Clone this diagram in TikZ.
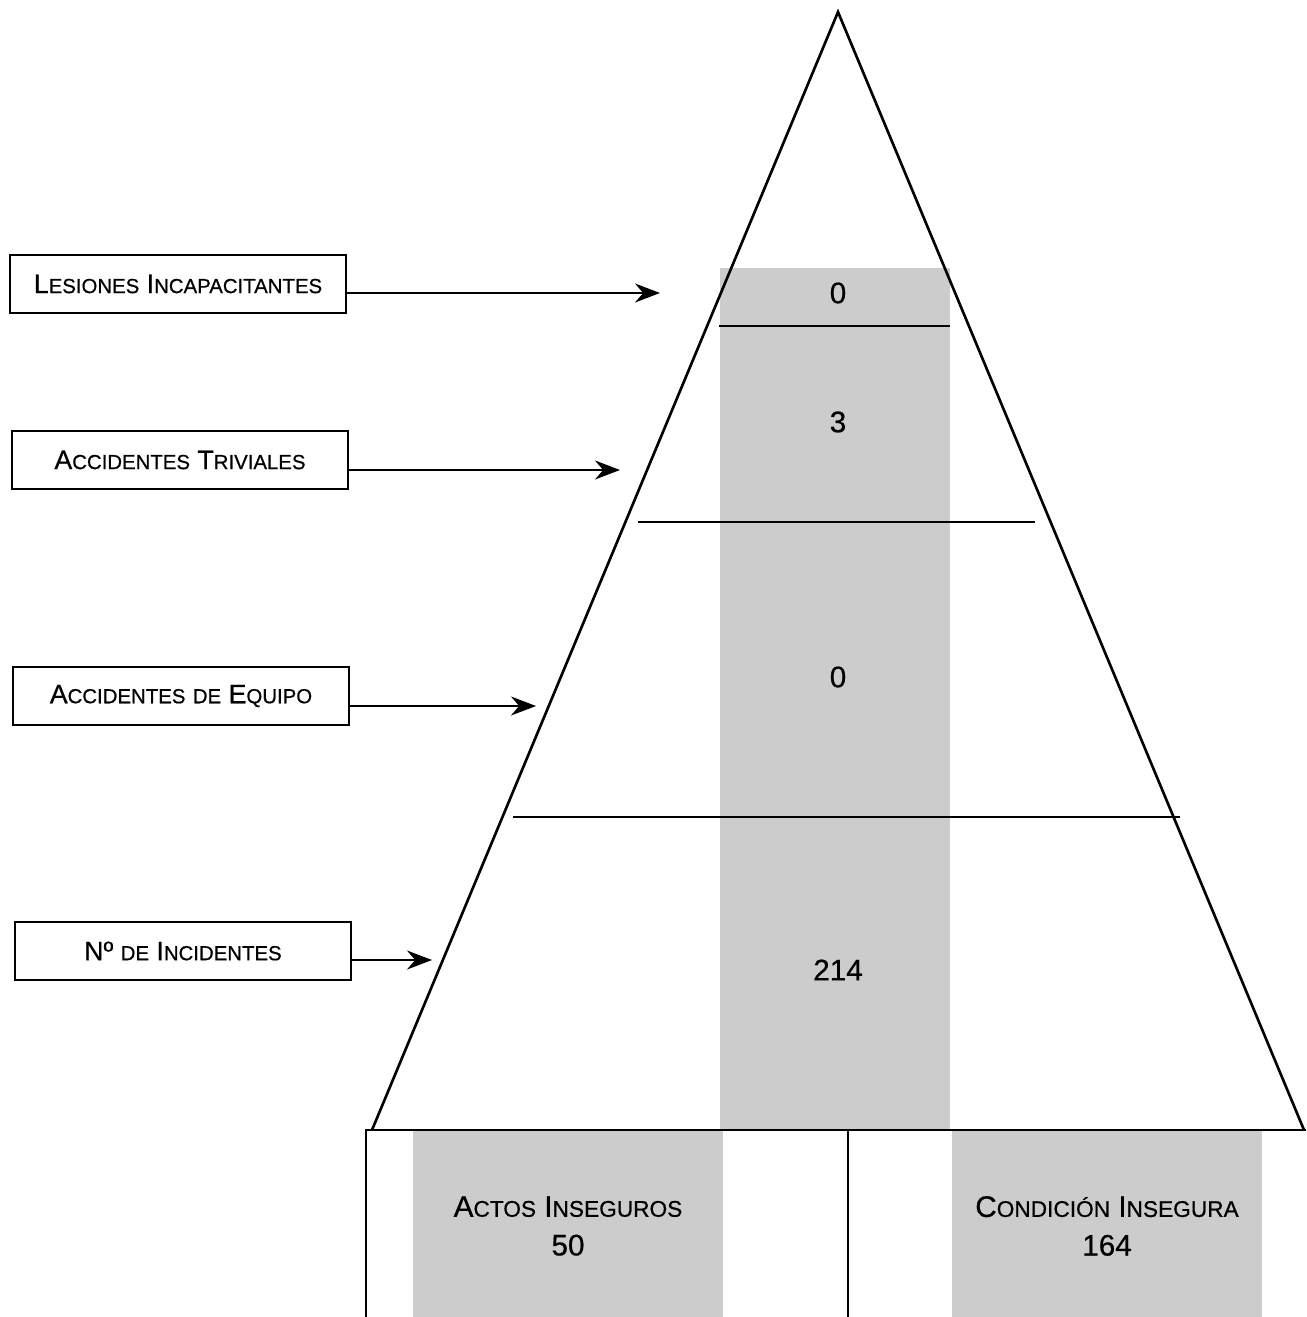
\documentclass[tikz,border=0pt]{standalone}
\usepackage{fontspec}
\setmainfont{Liberation Sans}[FakeBold=0.6]
\usetikzlibrary{arrows.meta, calc}
\newcommand{\smc}[2]{{\fontsize{15.2}{18}\selectfont #1}{\fontsize{11.6}{14}\selectfont #2}}
\newcommand{\smcb}[2]{{\fontsize{16.9}{20}\selectfont #1}{\fontsize{12.9}{15}\selectfont #2}}

\begin{document}
\begin{tikzpicture}[x=0.2mm, y=-0.2mm,
    etiq/.style={draw, line width=1pt, minimum width=67.2mm, minimum height=11.6mm, inner sep=0pt, font=\fontsize{15.2}{18}\selectfont},
    flecha/.style={-{Stealth[length=5mm, width=3.8mm]}, line width=1pt},
    sombra/.style={fill=black!20, draw=none},
    linea/.style={line width=1.5pt},
    num/.style={font=\fontsize{16.9}{20}\selectfont}]
    \useasboundingbox (0,0) rectangle (1306,1317);

    \coordinate (T) at (838, 12);
    \coordinate (P) at (372, 1130);
    \coordinate (Q) at (1304, 1130);
    \coordinate (B1) at (366, 1317);
    \coordinate (B2) at (366, 1130);
    \coordinate (B3) at (1306, 1130);
    \coordinate (D1) at (848, 1130);
    \coordinate (D2) at (848, 1317);

    \fill[sombra] (720, 268) rectangle (950, 1130);
    \fill[sombra] (413, 1130) rectangle (723, 1317);
    \fill[sombra] (952, 1130) rectangle (1262, 1317);

    \draw[linea] (P) -- (T) -- (Q);
    \draw[linea] (B1) -- (B2) -- (B3);
    \draw[linea] (D1) -- (D2);
    \draw[linea] (719, 326) -- (950, 326);
    \draw[linea] (638, 522) -- (1035, 522);
    \draw[linea] (513, 817) -- (1180, 817);

    \node[num] (n1) at (838, 293) {0};
    \node[num] (n2) at (838, 422) {3};
    \node[num] (n3) at (838, 677) {0};
    \node[num] (n4) at (838, 970) {214};
    \node[num, align=center] (actos) at (568, 1226) {\smcb{A}{CTOS} \smcb{I}{NSEGUROS}\\[2pt] 50};
    \node[num, align=center] (cond) at (1107, 1226) {\smcb{C}{ONDICIÓN} \smcb{I}{NSEGURA}\\[2pt] 164};

    \node[etiq] (les) at (178, 284) {\smc{L}{ESIONES} \smc{I}{NCAPACITANTES}};
    \node[etiq] (triv) at (180, 460) {\smc{A}{CCIDENTES} \smc{T}{RIVIALES}};
    \node[etiq] (equi) at (181, 696) {\smc{A}{CCIDENTES} {\fontsize{11.6}{14}\selectfont DE} \smc{E}{QUIPO}};
    \node[etiq] (inci) at (183, 951) {Nº {\fontsize{11.6}{14}\selectfont DE} \smc{I}{NCIDENTES}};

    \coordinate (f1) at (660, 293);
    \coordinate (f2) at (620, 470);
    \coordinate (f3) at (536, 706);
    \coordinate (f4) at (432, 960);

    \draw[flecha] ([yshift=-1.8mm]les.east) -- (f1);
    \draw[flecha] ([yshift=-2mm]triv.east) -- (f2);
    \draw[flecha] ([yshift=-2mm]equi.east) -- (f3);
    \draw[flecha] ([yshift=-1.8mm]inci.east) -- (f4);
\end{tikzpicture}
\end{document}
